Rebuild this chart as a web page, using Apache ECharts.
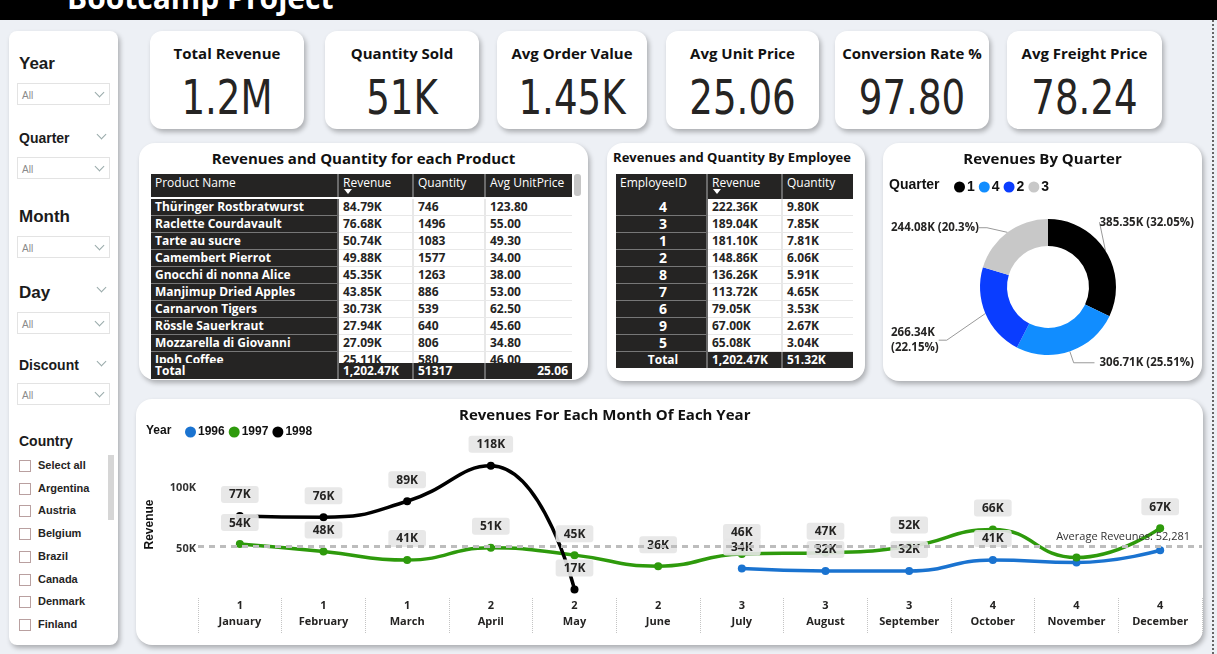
<!DOCTYPE html>
<html>
<head>
<meta charset="utf-8">
<title>Bootcamp Project</title>
<script src="https://cdn.jsdelivr.net/npm/echarts/dist/echarts.min.js"></script>
<style>
  body {
    margin: 0;
    width: 1217px;
    height: 654px;
    overflow: hidden;
    position: relative;
    background: #edf0f5;
    font-family: 'Open Sans', 'Noto Sans', sans-serif;
    color: #252423;
  }
  .topbar { position: absolute; left: 0; top: 0; width: 1217px; height: 20px; background: #000; overflow: hidden; }
  .topbar .name { position: absolute; left: 67px; top: -17px; font-size: 30px; line-height: 30px; font-weight: 700; color: #fff; white-space: nowrap; }
  .pageline { position: absolute; left: 1212px; top: 20px; height: 634px; border-left: 2px dotted #666; }
  .card { position: absolute; background: #fff; border-radius: 12px; box-shadow: 2px 3px 5px rgba(0, 0, 0, 0.28); }
  .kpi .t { position: absolute; left: 0; right: 0; top: 12px; text-align: center; font-size: 15px; font-weight: 700; color: #111; white-space: nowrap; }
  .kpi .v { position: absolute; left: 0; right: 0; top: 38px; text-align: center; font-size: 48px; line-height: 56px;
    font-family: 'DejaVu Sans Condensed', 'Liberation Sans Narrow', Roboto, sans-serif; color: #252423; transform: scaleX(0.86); }
  .slicer { position: absolute; left: 9px; top: 31px; width: 109px; height: 614px; border-radius: 8px; }
  .sl-title { position: absolute; left: 19px; font-family: 'Liberation Sans', Arial, sans-serif; font-weight: 700; color: #1b1b1b; }
  .dd { position: absolute; left: 17px; width: 91px; height: 20px; border: 1px solid #e3e3e3; background: #fff; }
  .dd span { position: absolute; left: 4px; top: 6px; font-size: 10px; color: #8a8a8a; font-family: 'Liberation Sans', Arial, sans-serif; }
  .chev { position: absolute; width: 6px; height: 6px; border-right: 1px solid #9aa; border-bottom: 1px solid #9aa; transform: rotate(45deg); }
  .dd .chev { left: 78px; top: 5px; }
  .cb { position: absolute; left: 19px; font-size: 11px; font-weight: 700; color: #252423; font-family: 'Liberation Sans', Arial, sans-serif; }
  .cb i { position: absolute; left: 0; top: 1px; width: 10px; height: 10px; border: 1px solid #b9a0a0; background: #fff; }
  .cb span { position: absolute; left: 19px; top: 0; white-space: nowrap; }
  .scroll { position: absolute; left: 108px; top: 455px; width: 6px; height: 65px; background: #d6d6d6; }
  .ctitle { position: absolute; left: 0; right: 0; text-align: center; font-weight: 700; color: #111; white-space: nowrap; }
  table { border-collapse: collapse; table-layout: fixed; font-size: 12px; }
  td, th { padding: 0 0 0 4px; height: 16px; line-height: 16px; white-space: nowrap; overflow: hidden; text-align: left; }
  th { background: #252423; color: #fff; font-weight: 400; font-size: 12px; vertical-align: top; height: 25px; line-height: 17px;
    border-right: 2px solid #6a6a6a; position: relative; }
  th .sort { position: absolute; left: 5px; top: 15px; width: 0; height: 0; border-left: 4px solid transparent; border-right: 4px solid transparent; border-top: 5px solid #fff; }
  td { font-weight: 700; color: #252423; border-bottom: 1px solid #e8e8e8; border-right: 2px solid #e8e8e8; }
  td.dark { background: #252423; color: #fff; font-size: 12px; border-bottom: 1px solid #777; border-right: 2px solid #6a6a6a; }
  tr.total td { background: #252423; color: #fff; border-right: 2px solid #6a6a6a; border-bottom: none; }
  .tbody { position: absolute; overflow: hidden; }
</style>
</head>
<body>
<div class="topbar"><div class="name">Bootcamp Project</div></div>
<div class="pageline"></div>

<div class="card slicer"></div>
<div class="sl-title" style="top:54px;font-size:17px;">Year</div>
<div class="dd" style="top:83px;"><span>All</span><div class="chev"></div></div>
<div class="sl-title" style="top:130px;font-size:14px;">Quarter</div>
<div class="chev" style="left:98px;top:131px;"></div>
<div class="dd" style="top:157px;"><span>All</span><div class="chev"></div></div>
<div class="sl-title" style="top:207px;font-size:17px;">Month</div>
<div class="dd" style="top:236px;"><span>All</span><div class="chev"></div></div>
<div class="sl-title" style="top:283px;font-size:17px;">Day</div>
<div class="chev" style="left:98px;top:284px;"></div>
<div class="dd" style="top:312px;"><span>All</span><div class="chev"></div></div>
<div class="sl-title" style="top:357px;font-size:14px;">Discount</div>
<div class="chev" style="left:98px;top:358px;"></div>
<div class="dd" style="top:383px;"><span>All</span><div class="chev"></div></div>
<div class="sl-title" style="top:433px;font-size:14px;">Country</div>
<div id="countries"></div>
<div class="scroll"></div>

<div id="kpis"></div>

<div class="card" style="left:139px;top:143px;width:449px;height:237px;border-radius:16px;">
  <div class="ctitle" style="top:5px;font-size:15px;">Revenues and Quantity for each Product</div>
</div>
<div id="productTable"></div>
<div style="position:absolute;left:574px;top:174px;width:7px;height:22px;border-radius:3px;background:#c6c6c6;"></div>

<div class="card" style="left:607px;top:143px;width:258px;height:238px;border-radius:16px;">
  <div class="ctitle" style="top:5px;font-size:13px;padding-right:8px;">Revenues and Quantity By Employee</div>
</div>
<div id="employeeTable"></div>

<div class="card" style="left:883px;top:143px;width:319px;height:238px;border-radius:16px;">
  <div id="donut" style="position:absolute;left:0;top:0;width:319px;height:238px;"></div>
</div>

<div class="card" style="left:136px;top:399px;width:1067px;height:246px;border-radius:16px;">
  <div id="lines" style="position:absolute;left:0;top:0;width:1067px;height:246px;"></div>
</div>

<script>
// ---- data ----
const kpiNames = ['Total Revenue', 'Quantity Sold', 'Avg Order Value', 'Avg Unit Price', 'Conversion Rate %', 'Avg Freight Price'];
const kpiValues = ['1.2M', '51K', '1.45K', '25.06', '97.80', '78.24'];

const countries = ['Select all', 'Argentina', 'Austria', 'Belgium', 'Brazil', 'Canada', 'Denmark', 'Finland'];

const productNames = ['Thüringer Rostbratwurst', 'Raclette Courdavault', 'Tarte au sucre', 'Camembert Pierrot',
  'Gnocchi di nonna Alice', 'Manjimup Dried Apples', 'Carnarvon Tigers', 'Rössle Sauerkraut',
  'Mozzarella di Giovanni', 'Ipoh Coffee'];
const productRevenue = ['84.79K', '76.68K', '50.74K', '49.88K', '45.35K', '43.85K', '30.73K', '27.94K', '27.09K', '25.11K'];
const productQty = [746, 1496, 1083, 1577, 1263, 886, 539, 640, 806, 580];
const productAvgPrice = ['123.80', '55.00', '49.30', '34.00', '38.00', '53.00', '62.50', '45.60', '34.80', '46.00'];
const productTotal = ['Total', '1,202.47K', '51317', '25.06'];

const employeeIds = [4, 3, 1, 2, 8, 7, 6, 9, 5];
const employeeRevenue = ['222.36K', '189.04K', '181.10K', '148.86K', '136.26K', '113.72K', '79.05K', '67.00K', '65.08K'];
const employeeQty = ['9.80K', '7.85K', '7.81K', '6.06K', '5.91K', '4.65K', '3.53K', '2.67K', '3.04K'];
const employeeTotal = ['Total', '1,202.47K', '51.32K'];

const quarterNames = ['1', '4', '2', '3'];
const quarterRevenue = [385.35, 306.71, 266.34, 244.08]; // thousands
const quarterColors = ['#000000', '#118dff', '#0a3dff', '#c8c8c8'];

const months = ['January', 'February', 'March', 'April', 'May', 'June', 'July', 'August', 'September', 'October', 'November', 'December'];
const monthQuarter = [1, 1, 1, 2, 2, 2, 3, 3, 3, 4, 4, 4];
const years = ['1996', '1997', '1998'];
const rev1996 = [null, null, null, null, null, null, 34000, 32000, 32000, 41000, 39000, 49000];
const rev1997 = [54000, 48000, 41000, 51000, 45000, 36000, 46000, 47000, 52000, 66000, 43000, 67000];
const rev1998 = [77000, 76000, 89000, 118000, 17000, null, null, null, null, null, null, null];
const avgRevenue = 52281;
const hiddenLabels = { '1996': [10, 11], '1997': [10], '1998': [] };
const yearColors = ['#1a73d0', '#2e9a0c', '#000000'];

// ---- html parts ----
let h = '';
const kpiBoxes = [[150, 154], [325, 154], [497, 150], [666, 153], [835, 154], [1007, 155]];
kpiNames.forEach((n, i) => {
  h += '<div class="card kpi" style="left:' + kpiBoxes[i][0] + 'px;top:31px;width:' + kpiBoxes[i][1] + 'px;height:98px;">' +
    '<div class="t">' + n + '</div><div class="v">' + kpiValues[i] + '</div></div>';
});
document.getElementById('kpis').innerHTML = h;

h = '';
countries.forEach((c, i) => {
  h += '<div class="cb" style="top:' + (459 + i * 22.7) + 'px;"><i></i><span>' + c + '</span></div>';
});
document.getElementById('countries').innerHTML = h;

function colgroup(ws) {
  return '<colgroup>' + ws.map(w => '<col style="width:' + w + 'px">').join('') + '</colgroup>';
}

// product table
let cols = [187, 75, 72, 87];
h = '<table style="position:absolute;left:151px;top:174px;width:421px;">' + colgroup(cols) +
  '<tr><th style="height:23px">Product Name</th><th style="height:23px">Revenue<div class="sort"></div></th><th style="height:23px">Quantity</th><th style="border-right:none;height:23px">Avg UnitPrice</th></tr></table>';
h += '<div class="tbody" style="left:151px;top:199px;width:421px;height:164px;"><table style="width:421px;">' + colgroup(cols);
productNames.forEach((n, i) => {
  h += '<tr><td class="dark">' + n + '</td><td>' + productRevenue[i] + '</td><td>' + productQty[i] +
    '</td><td style="border-right:none">' + productAvgPrice[i] + '</td></tr>';
});
h += '</table></div>';
h += '<table style="position:absolute;left:151px;top:363px;width:421px;">' + colgroup(cols) + '<tr class="total">' +
  '<td>' + productTotal[0] + '</td><td>' + productTotal[1] + '</td><td>' + productTotal[2] +
  '</td><td style="text-align:right;padding-right:4px;border-right:none">' + productTotal[3] + '</td></tr></table>';
document.getElementById('productTable').innerHTML = h;

// employee table
cols = [91, 75, 71];
h = '<table style="position:absolute;left:616px;top:174px;width:237px;">' + colgroup(cols) +
  '<tr><th>EmployeeID</th><th>Revenue<div class="sort"></div></th><th style="border-right:none">Quantity</th></tr>';
employeeIds.forEach((id, i) => {
  h += '<tr><td class="dark" style="text-align:center;font-size:14px">' + id + '</td><td>' + employeeRevenue[i] +
    '</td><td style="border-right:none">' + employeeQty[i] + '</td></tr>';
});
h += '<tr class="total"><td style="text-align:center">' + employeeTotal[0] + '</td><td>' + employeeTotal[1] +
  '</td><td style="border-right:none">' + employeeTotal[2] + '</td></tr></table>';
document.getElementById('employeeTable').innerHTML = h;

// ---- donut ----
const quarterTotal = quarterRevenue.reduce((a, b) => a + b, 0);
const donut = echarts.init(document.getElementById('donut'));
donut.setOption({
  title: {
    text: 'Revenues By Quarter', left: 'center', top: 4,
    textStyle: { fontSize: 15, fontWeight: 'bold', color: '#111', fontFamily: 'Open Sans' }
  },
  graphic: [{ type: 'text', left: 6, top: 35, style: { text: 'Quarter', font: 'bold 14px "Liberation Sans", Arial', fill: '#111' } }],
  legend: {
    left: 66, top: 32, itemGap: 4, itemWidth: 11, itemHeight: 11, icon: 'circle',
    data: quarterNames,
    textStyle: { fontSize: 14, fontWeight: 'bold', color: '#111', padding: [0, 0, 0, -3], fontFamily: 'Liberation Sans' }
  },
  series: [{
    type: 'pie',
    center: [165, 144],
    radius: [41, 68],
    startAngle: 90,
    avoidLabelOverlap: true,
    data: quarterNames.map((q, i) => ({ name: q, value: quarterRevenue[i], itemStyle: { color: quarterColors[i] } })),
    label: {
      color: '#252423', fontSize: 11.5, fontWeight: 'bold', fontFamily: 'Open Sans', lineHeight: 15, overflow: 'none',
      alignTo: 'edge', edgeDistance: 8,
      formatter: p => {
        const s = p.value.toFixed(2) + 'K';
        const pct = '(' + parseFloat((p.value / quarterTotal * 100).toFixed(2)) + '%)';
        return p.name === '2' ? s + '\n' + pct : s + ' ' + pct;
      }
    },
    labelLine: { length: 12, length2: 8, lineStyle: { color: '#999', width: 1 } },
    // Power BI lifts the first label above the slice and drops the lower-left one
    labelLayout: p => {
      const cy = p.labelRect.y + p.labelRect.height / 2;
      if (p.dataIndex === 0) return { y: cy - 22 };
      if (p.dataIndex === 2) return { y: cy + 22 };
      if (p.dataIndex === 3) return { y: cy + 5 };
      return {};
    },
    emphasis: { disabled: true }
  }]
});

// ---- monthly lines ----
const lines = echarts.init(document.getElementById('lines'));
const yearData = [rev1996, rev1997, rev1998];
const lineSeries = years.map((y, k) => ({
  name: y,
  type: 'line',
  z: 3,
  smooth: true,
  symbol: 'circle',
  symbolSize: 8,
  color: yearColors[k],
  lineStyle: { width: 3.5 },
  data: yearData[k].map((v, i) => (hiddenLabels[y].indexOf(i) >= 0 ? { value: v, label: { show: false } } : v)),
  label: {
    show: true, position: 'top', distance: 9,
    formatter: p => Math.round(p.value / 1000) + 'K',
    backgroundColor: 'rgba(230,230,230,0.92)', padding: [3, 8, 2, 8], borderRadius: 3,
    color: '#252423', fontSize: 12, fontWeight: 'bold', fontFamily: 'Open Sans'
  },
  emphasis: { disabled: true }
}));
lineSeries.unshift({
  name: 'Average',
  type: 'line',
  z: 1,
  data: [],
  markLine: {
    silent: true, symbol: 'none',
    lineStyle: { type: [6, 5], color: '#bdbdbd', width: 3 },
    label: {
      position: 'insideEndTop', formatter: 'Average Reveunes: 52,281', color: '#333',
      fontSize: 11, fontFamily: 'Open Sans', distance: [12, 4]
    },
    data: [{ yAxis: avgRevenue }]
  }
});
lines.setOption({
  title: {
    text: 'Revenues For Each Month Of Each Year', left: 318, top: 4,
    textStyle: { fontSize: 15, fontWeight: 'bold', color: '#111', fontFamily: 'Open Sans' }
  },
  graphic: [{ type: 'text', left: 10, top: 26, style: { text: 'Year', font: 'bold 12px "Liberation Sans", Arial', fill: '#111' } }],
  legend: {
    left: 44, top: 22, itemGap: 4, itemWidth: 11, itemHeight: 11, icon: 'circle',
    data: years,
    textStyle: { fontSize: 12, fontWeight: 'bold', color: '#111', padding: [0, 0, 0, -3], fontFamily: 'Liberation Sans' }
  },
  grid: { left: 59, right: 1, top: 52, bottom: 47 },
  xAxis: {
    type: 'category',
    data: months,
    axisLine: { show: false },
    axisTick: { show: true, length: 36, lineStyle: { type: 'dotted', color: '#c4c4c4' } },
    axisLabel: {
      margin: 0, lineHeight: 16, fontSize: 11, fontWeight: 'bold', color: '#252423', fontFamily: 'Open Sans',
      formatter: (v, i) => monthQuarter[i] + '\n' + v
    }
  },
  yAxis: {
    type: 'value', min: 10000, max: 130000, interval: 10000,
    name: 'Revenue', nameLocation: 'middle', nameGap: 42, nameRotate: 90,
    nameTextStyle: { fontSize: 12, fontWeight: 'bold', color: '#111', fontFamily: 'Liberation Sans' },
    splitLine: { show: false }, axisLine: { show: false }, axisTick: { show: false },
    axisLabel: {
      margin: 2, fontSize: 11, fontWeight: 'bold', color: '#333', fontFamily: 'Open Sans',
      formatter: v => (v === 50000 ? '50K' : v === 100000 ? '100K' : '')
    }
  },
  series: lineSeries
});
</script>
</body>
</html>
